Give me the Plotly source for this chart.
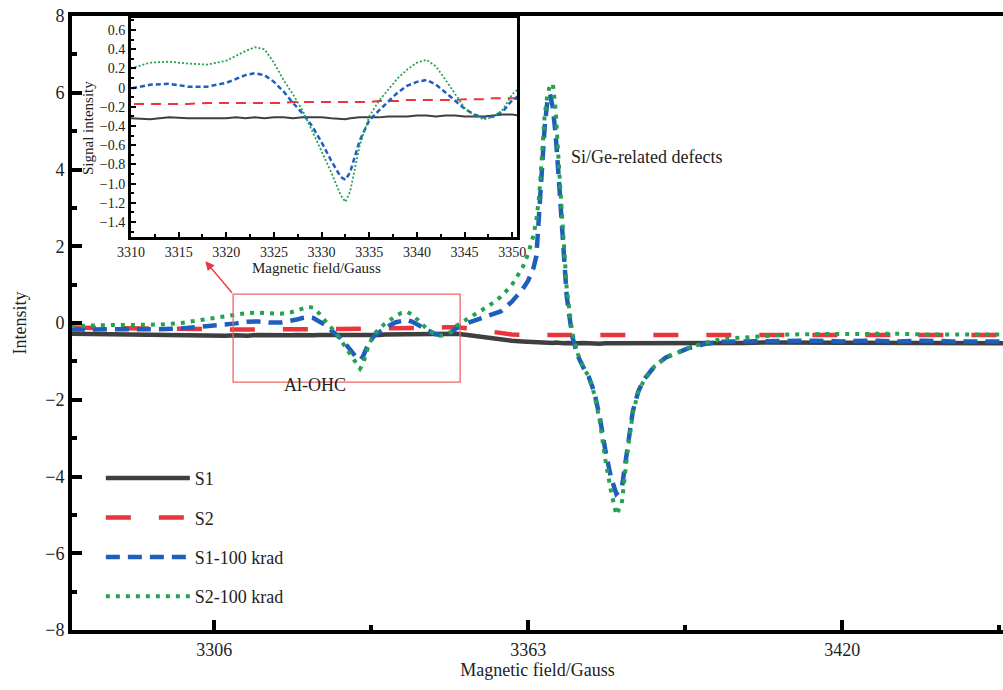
import plotly.graph_objects as go

# ---------------- data ----------------
field = [3280, 3284, 3288, 3292, 3296, 3300, 3303, 3306, 3308, 3310,
         3312, 3314, 3316, 3318, 3320, 3321, 3322, 3323, 3324, 3325,
         3326, 3327, 3328, 3329, 3330, 3331, 3332, 3332.5, 3333, 3334,
         3335, 3336, 3337, 3338, 3339, 3340, 3341, 3342, 3343, 3344,
         3345, 3346, 3347, 3348, 3349, 3350, 3352, 3354, 3356, 3358,
         3360, 3362, 3363, 3364, 3364.5, 3365, 3365.5, 3366, 3366.5, 3367,
         3367.5, 3368, 3368.5, 3369, 3369.5, 3370, 3371, 3372, 3373, 3374,
         3375, 3376, 3377, 3378, 3379, 3380, 3381, 3382, 3383, 3384,
         3386, 3388, 3390, 3392, 3395, 3398, 3402, 3406, 3410, 3415,
         3420, 3425, 3430, 3435, 3440, 3445, 3450]

s1 = [-0.28, -0.29, -0.30, -0.31, -0.32, -0.32, -0.31, -0.32, -0.33, -0.32,
      -0.33, -0.31, -0.32, -0.32, -0.32, -0.31, -0.32, -0.31, -0.32, -0.31,
      -0.31, -0.32, -0.31, -0.31, -0.31, -0.32, -0.33, -0.33, -0.32, -0.31,
      -0.31, -0.31, -0.30, -0.30, -0.30, -0.29, -0.29, -0.30, -0.29, -0.29,
      -0.30, -0.30, -0.30, -0.29, -0.28, -0.28, -0.31, -0.35, -0.39, -0.43,
      -0.46, -0.48, -0.49, -0.50, -0.50, -0.51, -0.50, -0.51, -0.51, -0.52,
      -0.52, -0.51, -0.52, -0.52, -0.53, -0.52, -0.53, -0.53, -0.52, -0.53,
      -0.53, -0.54, -0.53, -0.53, -0.54, -0.53, -0.53, -0.54, -0.54, -0.53,
      -0.53, -0.54, -0.53, -0.53, -0.52, -0.52, -0.52, -0.51, -0.51, -0.52,
      -0.51, -0.52, -0.51, -0.52, -0.52, -0.53, -0.53]

s2 = [-0.12, -0.13, -0.14, -0.15, -0.15, -0.16, -0.16, -0.17, -0.17, -0.17,
      -0.17, -0.17, -0.17, -0.16, -0.16, -0.16, -0.16, -0.16, -0.16, -0.16,
      -0.16, -0.15, -0.15, -0.15, -0.15, -0.15, -0.15, -0.15, -0.15, -0.15,
      -0.15, -0.14, -0.14, -0.14, -0.13, -0.13, -0.13, -0.13, -0.13, -0.13,
      -0.12, -0.12, -0.12, -0.11, -0.11, -0.11, -0.14, -0.18, -0.22, -0.27,
      -0.30, -0.31, -0.31, -0.31, -0.31, -0.31, -0.31, -0.31, -0.31, -0.31,
      -0.31, -0.31, -0.31, -0.31, -0.31, -0.31, -0.31, -0.31, -0.31, -0.31,
      -0.31, -0.31, -0.31, -0.31, -0.31, -0.31, -0.31, -0.31, -0.31, -0.31,
      -0.31, -0.31, -0.30, -0.30, -0.30, -0.30, -0.30, -0.30, -0.30, -0.30,
      -0.30, -0.30, -0.30, -0.31, -0.31, -0.31, -0.31]

s1_100krad = [-0.17, -0.17, -0.17, -0.17, -0.16, -0.14, -0.11, -0.07, -0.04, -0.01,
              0.03, 0.04, 0.01, 0.01, 0.05, 0.09, 0.13, 0.15, 0.13, 0.06,
              -0.04, -0.16, -0.27, -0.40, -0.57, -0.76, -0.93, -0.96, -0.88, -0.55,
              -0.34, -0.24, -0.14, -0.05, 0.02, 0.06, 0.08, 0.03, -0.05, -0.14,
              -0.22, -0.28, -0.31, -0.30, -0.25, -0.13, 0.00, 0.10, 0.17, 0.30,
              0.55, 0.88, 1.10, 1.45, 1.75, 2.90, 4.20, 5.10, 5.80, 5.95,
              5.60, 4.90, 3.90, 2.70, 1.60, 0.70, -0.35, -0.85, -1.15, -1.40,
              -1.80, -2.45, -3.30, -4.00, -4.45, -4.30, -3.30, -2.30, -1.78, -1.48,
              -1.12, -0.90, -0.78, -0.66, -0.55, -0.49, -0.48, -0.47, -0.48, -0.46,
              -0.48, -0.46, -0.48, -0.46, -0.48, -0.47, -0.48]

s2_100krad = [-0.08, -0.06, -0.05, -0.05, -0.04, 0.00, 0.06, 0.12, 0.16, 0.20,
              0.26, 0.27, 0.25, 0.24, 0.28, 0.33, 0.38, 0.42, 0.40, 0.26,
              0.08, -0.07, -0.24, -0.45, -0.66, -0.88, -1.12, -1.19, -1.08, -0.60,
              -0.30, -0.14, -0.02, 0.10, 0.19, 0.26, 0.29, 0.22, 0.08, -0.07,
              -0.21, -0.29, -0.33, -0.31, -0.23, -0.07, 0.10, 0.28, 0.46, 0.68,
              0.98, 1.45, 1.80, 2.30, 2.70, 3.30, 4.40, 5.40, 5.95, 6.22,
              6.22, 5.55, 4.30, 3.10, 1.95, 0.90, -0.25, -0.80, -1.15, -1.40,
              -1.85, -2.55, -3.55, -4.35, -5.00, -4.70, -3.40, -2.35, -1.80, -1.50,
              -1.12, -0.90, -0.78, -0.66, -0.52, -0.42, -0.38, -0.33, -0.30, -0.29,
              -0.28, -0.29, -0.28, -0.30, -0.29, -0.30, -0.30]

series_names = ["S1", "S2", "S1-100 krad", "S2-100 krad"]
series_values = [s1, s2, s1_100krad, s2_100krad]
main_x_ticks = [3306, 3363, 3420]
main_y_ticks = [8, 6, 4, 2, 0, -2, -4, -6, -8]
inset_x_ticks = [3310, 3315, 3320, 3325, 3330, 3335, 3340, 3345, 3350]
inset_y_ticks = [0.6, 0.4, 0.2, 0, -0.2, -0.4, -0.6, -0.8, -1.0, -1.2, -1.4]

# ---------------- styles ----------------
FONT = "Liberation Serif, Times New Roman, serif"
colors = ["#3f3f3f", "#e8363c", "#1e5fbd", "#23a24f"]
main_styles = [dict(width=4.5, dash="solid"),
               dict(width=4.5, dash="25px,28px"),
               dict(width=4.5, dash="14px,8px"),
               dict(width=4, dash="4px,6px")]
inset_styles = [dict(width=2, dash="solid"),
                dict(width=2, dash="10px,7px"),
                dict(width=2.5, dash="5px,3px"),
                dict(width=1.8, dash="2px,2px")]

fig = go.Figure()
for i, (name, vals) in enumerate(zip(series_names, series_values)):
    fig.add_trace(go.Scatter(
        x=field, y=vals, mode="lines", name=name,
        line=dict(color=colors[i], **main_styles[i]),
        legendgroup=name, xaxis="x", yaxis="y"))
for i, (name, vals) in enumerate(zip(series_names, series_values)):
    fig.add_trace(go.Scatter(
        x=field, y=vals, mode="lines", name=name, showlegend=False,
        line=dict(color=colors[i], **inset_styles[i]),
        xaxis="x2", yaxis="y2"))

W, H = 1003, 690
ml, mr, mt, mb = 72, 0, 16, 60
pw = W - ml - mr
ph = H - mt - mb

fig.update_layout(
    width=W, height=H,
    margin=dict(l=ml, r=mr, t=mt, b=mb, autoexpand=False),
    paper_bgcolor="white", plot_bgcolor="white",
    font=dict(family=FONT, size=18, color="#222"),
    showlegend=True,
    legend=dict(x=0.031, y=0.277, xanchor="left", yanchor="top",
                bgcolor="rgba(0,0,0,0)", font=dict(size=18, family=FONT),
                tracegroupgap=13, itemwidth=84),
    xaxis=dict(range=[3280.2, 3449.2], domain=[0, 1], automargin=False,
               tickvals=main_x_ticks, ticks="inside", ticklen=10, tickwidth=4,
               tickcolor="black", showline=True, linewidth=4, linecolor="black",
               mirror=True, showgrid=False, zeroline=False,
               minor=dict(dtick=28.5, tick0=3306, ticks="inside", ticklen=5,
                          tickwidth=4, tickcolor="black", showgrid=False),
               tickfont=dict(size=18),
               title=dict(text="Magnetic field/Gauss", standoff=6,
                          font=dict(size=18))),
    yaxis=dict(range=[-8, 8], domain=[0, 1], automargin=False,
               tickvals=main_y_ticks, ticks="inside", ticklen=10, tickwidth=4,
               tickcolor="black", showline=True, linewidth=4, linecolor="black",
               showgrid=False, zeroline=False,
               minor=dict(dtick=1, ticks="inside", ticklen=5, tickwidth=4,
                          tickcolor="black", showgrid=False),
               tickfont=dict(size=18),
               title=dict(text="Intensity", standoff=15, font=dict(size=18))),
    xaxis2=dict(range=[3310, 3350.5], domain=[(131 - ml) / pw, (517 - ml) / pw],
                anchor="y2", automargin=False, tickvals=inset_x_ticks,
                ticks="inside", ticklen=5,
                tickwidth=2, tickcolor="black", showline=True, linewidth=3,
                linecolor="black", mirror=True, showgrid=False, zeroline=False,
                minor=dict(dtick=2.5, tick0=3310, ticks="inside", ticklen=3,
                           tickwidth=2, tickcolor="black", showgrid=False),
                tickfont=dict(size=14)),
    yaxis2=dict(range=[-1.556, 0.725], domain=[(H - mb - 237) / ph, (H - mb - 18) / ph],
                anchor="x2", automargin=False, tickvals=inset_y_ticks,
                ticktext=[("−" if v < 0 else "") + (f"{abs(v):.1f}" if v != 0 else "0") for v in inset_y_ticks],
                ticks="inside", ticklen=5, tickwidth=2, tickcolor="black",
                showline=True, linewidth=3, linecolor="black", mirror=True,
                showgrid=False, zeroline=False,
                minor=dict(dtick=0.1, ticks="inside", ticklen=3, tickwidth=2,
                           tickcolor="black", showgrid=False),
                tickfont=dict(size=14)),
)

# inset axis titles
fig.add_annotation(text="Signal intensity", xref="paper", yref="paper",
                   x=(88 - ml) / pw, y=(H - mb - 128) / ph, textangle=-90,
                   showarrow=False, font=dict(size=15, family=FONT, color="#222"),
                   xanchor="center", yanchor="middle")
fig.add_annotation(text="Magnetic field/Gauss", xref="paper", yref="paper",
                   x=(316 - ml) / pw, y=(H - mb - 268) / ph,
                   showarrow=False, font=dict(size=15, family=FONT, color="#222"),
                   xanchor="center", yanchor="middle")

# zoom box + arrow
fig.add_shape(type="rect", xref="x", yref="y", x0=3309.45, x1=3350.65,
              y0=-1.54, y1=0.755, line=dict(color="#f06565", width=1.3))
fig.add_annotation(x=3304.4, y=1.61, xref="x", yref="y", text="",
                   showarrow=True, ax=28, ay=33, arrowcolor="#e8363c",
                   arrowwidth=1.3, arrowhead=2, arrowsize=1.4)

# labels
fig.add_annotation(text="Al-OHC", x=3324.3, y=-1.61, xref="x", yref="y",
                   showarrow=False, font=dict(size=18, family=FONT, color="#222"),
                   xanchor="center", yanchor="middle")
fig.add_annotation(text="Si/Ge-related defects", x=3370.4, y=4.32, xref="x", yref="y",
                   showarrow=False, font=dict(size=18, family=FONT, color="#222"),
                   xanchor="left", yanchor="middle")

fig.write_html("out.html", config={"displayModeBar": False},
               post_script="document.body.style.margin='0';document.body.style.overflow='hidden';")
